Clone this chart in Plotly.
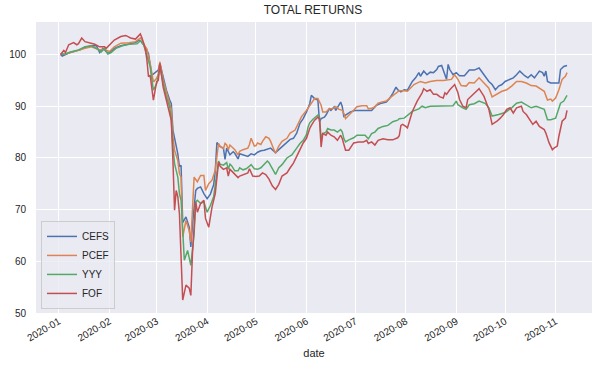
import plotly.graph_objects as go

# ---- data ----
cefs_dates = ["2020-01-02","2020-01-03","2020-01-07","2020-01-10","2020-01-14","2020-01-17","2020-01-21","2020-01-24","2020-01-26","2020-01-28","2020-01-29","2020-01-31","2020-02-01","2020-02-04","2020-02-08","2020-02-13","2020-02-17","2020-02-19","2020-02-20","2020-02-22","2020-02-24","2020-02-25",
"2020-02-27","2020-02-29","2020-03-02","2020-03-03","2020-03-05","2020-03-07","2020-03-09","2020-03-10","2020-03-11","2020-03-12","2020-03-14","2020-03-15","2020-03-16","2020-03-17","2020-03-19","2020-03-21","2020-03-22","2020-03-23","2020-03-25","2020-03-26","2020-03-28","2020-03-30","2020-04-01","2020-04-03","2020-04-05","2020-04-06","2020-04-07",
"2020-04-09","2020-04-11","2020-04-12","2020-04-13","2020-04-15","2020-04-17","2020-04-18","2020-04-20","2020-04-21","2020-04-24","2020-04-26","2020-04-28","2020-04-30","2020-05-02","2020-05-04","2020-05-06","2020-05-08","2020-05-10","2020-05-12","2020-05-13","2020-05-15","2020-05-17","2020-05-20","2020-05-22","2020-05-24","2020-05-26","2020-05-28","2020-05-30","2020-06-01","2020-06-02","2020-06-03","2020-06-04",
"2020-06-05","2020-06-06","2020-06-08","2020-06-09","2020-06-10","2020-06-12","2020-06-13","2020-06-15","2020-06-16","2020-06-18","2020-06-19","2020-06-21","2020-06-22","2020-06-23","2020-06-24","2020-06-25","2020-06-28","2020-07-01","2020-07-05","2020-07-09","2020-07-11","2020-07-14","2020-07-17","2020-07-20","2020-07-22","2020-07-24","2020-07-26","2020-07-27","2020-07-29","2020-07-31",
"2020-08-02","2020-08-05","2020-08-07","2020-08-09","2020-08-10","2020-08-12","2020-08-14","2020-08-16","2020-08-18","2020-08-20","2020-08-21","2020-08-23","2020-08-24","2020-08-26","2020-08-27","2020-08-28","2020-08-30","2020-09-01","2020-09-03","2020-09-06","2020-09-09","2020-09-12","2020-09-15","2020-09-17","2020-09-19","2020-09-21","2020-09-23","2020-09-25","2020-09-27","2020-09-29",
"2020-10-01","2020-10-04","2020-10-06","2020-10-08","2020-10-10","2020-10-13","2020-10-15","2020-10-17","2020-10-19","2020-10-22","2020-10-24","2020-10-25","2020-10-26","2020-10-27","2020-10-29","2020-11-01","2020-11-03","2020-11-04","2020-11-06","2020-11-08"]
cefs_vals = [100.0,99.7,100.3,100.6,100.9,101.4,101.7,101.7,100.4,101.2,100.9,100.3,100.3,101.2,101.7,102.1,102.3,102.8,102.7,101.9,100.6,100.2,
96.0,96.6,97.0,98.3,95.4,93.1,91.2,90.5,85.4,83.7,80.8,78.3,78.6,67.5,68.6,66.6,62.8,67.0,73.7,74.1,74.4,73.1,72.1,73.0,74.8,77.5,83.0,
82.2,81.9,79.7,81.9,80.6,81.2,80.9,79.8,80.8,80.5,80.3,80.8,80.6,81.1,81.4,81.5,81.7,81.9,81.3,81.0,81.6,82.2,83.2,83.6,83.8,84.8,86.7,87.6,88.9,89.8,90.5,92.1,
91.8,91.5,91.2,87.0,87.6,87.9,88.3,89.5,89.2,89.9,89.2,90.2,90.8,89.9,87.9,88.3,88.9,89.2,89.2,89.1,89.2,90.2,90.6,90.8,91.5,92.5,93.7,93.2,92.8,93.2,
93.1,94.8,95.5,96.5,95.8,96.8,96.1,96.6,96.5,97.1,97.7,97.9,97.1,95.2,98.1,97.1,96.1,96.5,95.9,95.9,97.0,97.0,97.4,96.5,95.5,94.8,94.2,93.2,93.9,94.2,
94.8,95.2,95.5,96.1,96.8,95.9,95.5,96.1,95.5,96.8,96.5,95.8,96.8,94.8,94.5,94.5,94.5,97.1,97.7,97.9]

pcef_dates = ["2020-01-02","2020-01-05","2020-01-08","2020-01-13","2020-01-17","2020-01-21","2020-01-26","2020-01-28","2020-01-30","2020-02-01","2020-02-04","2020-02-08","2020-02-13","2020-02-17","2020-02-20","2020-02-21","2020-02-23",
"2020-02-24","2020-02-25","2020-02-26","2020-02-28","2020-03-01","2020-03-02","2020-03-03","2020-03-05","2020-03-07","2020-03-09","2020-03-10","2020-03-11","2020-03-12","2020-03-14","2020-03-15","2020-03-16","2020-03-17","2020-03-19","2020-03-21","2020-03-22","2020-03-24","2020-03-26","2020-03-28","2020-03-30","2020-03-31","2020-04-02","2020-04-04","2020-04-06","2020-04-08",
"2020-04-09","2020-04-11","2020-04-12","2020-04-13","2020-04-14","2020-04-15","2020-04-16","2020-04-18","2020-04-20","2020-04-21","2020-04-23","2020-04-26","2020-04-27","2020-04-28","2020-04-30","2020-05-01","2020-05-02","2020-05-04","2020-05-05","2020-05-07","2020-05-09","2020-05-10","2020-05-12","2020-05-13","2020-05-15","2020-05-17","2020-05-20","2020-05-22","2020-05-25","2020-05-27","2020-05-29","2020-06-01","2020-06-03","2020-06-05",
"2020-06-06","2020-06-08","2020-06-10","2020-06-11","2020-06-13","2020-06-15","2020-06-17","2020-06-19","2020-06-21","2020-06-23","2020-06-24","2020-06-25","2020-06-27","2020-06-30","2020-07-02","2020-07-05","2020-07-08","2020-07-09","2020-07-11","2020-07-13","2020-07-15","2020-07-17","2020-07-20","2020-07-23","2020-07-26","2020-07-28",
"2020-07-31","2020-08-02","2020-08-06","2020-08-10","2020-08-13","2020-08-16","2020-08-20","2020-08-24","2020-08-29","2020-08-31","2020-09-02","2020-09-04","2020-09-07","2020-09-09","2020-09-12","2020-09-15","2020-09-18","2020-09-21","2020-09-23","2020-09-26","2020-09-29",
"2020-10-02","2020-10-05","2020-10-08","2020-10-11","2020-10-14","2020-10-17","2020-10-20","2020-10-23","2020-10-25","2020-10-27","2020-10-29","2020-10-30","2020-11-01","2020-11-03","2020-11-05","2020-11-07","2020-11-08"]
pcef_vals = [100.0,100.1,100.4,100.9,101.2,101.5,100.9,101.0,100.8,100.6,101.5,102.2,102.3,102.5,103.2,102.9,101.5,
101.1,99.6,98.3,94.7,95.4,96.3,98.6,95.1,92.5,90.5,89.5,84.1,81.5,79.5,77.0,76.3,64.7,67.9,65.9,63.7,76.3,75.4,76.6,76.6,73.7,75.0,75.7,77.6,82.8,
82.2,81.8,82.8,82.5,81.6,82.5,82.2,81.6,80.6,81.3,81.6,81.9,82.6,83.8,82.3,82.4,82.9,82.6,83.2,84.1,83.8,83.2,81.6,80.9,82.3,83.2,83.8,84.8,85.4,86.7,88.0,89.2,90.1,91.2,
91.5,91.5,90.2,88.9,88.9,89.5,89.5,89.9,89.4,89.2,88.6,87.6,88.3,89.2,89.9,90.1,90.1,89.5,89.6,89.9,90.6,90.8,91.0,91.8,92.5,93.0,
93.0,92.9,94.2,94.8,94.5,94.8,95.0,95.0,95.2,96.1,95.2,94.0,93.9,94.6,94.5,95.5,94.5,93.5,91.8,92.3,92.9,
93.2,93.9,94.8,94.8,94.5,94.0,93.9,93.2,92.9,91.2,91.4,91.0,91.6,93.2,95.2,95.8,96.5]

yyy_dates = ["2020-01-02","2020-01-05","2020-01-08","2020-01-13","2020-01-17","2020-01-21","2020-01-25","2020-01-27","2020-01-29","2020-01-31","2020-02-02","2020-02-05","2020-02-09","2020-02-13","2020-02-18","2020-02-20","2020-02-22","2020-02-24",
"2020-02-26","2020-02-28","2020-03-01","2020-03-02","2020-03-03","2020-03-05","2020-03-07","2020-03-09","2020-03-10","2020-03-11","2020-03-12","2020-03-14","2020-03-15","2020-03-16","2020-03-18","2020-03-20","2020-03-21","2020-03-22","2020-03-24","2020-03-25","2020-03-26","2020-03-28","2020-03-30","2020-04-01","2020-04-03","2020-04-05","2020-04-08",
"2020-04-09","2020-04-11","2020-04-13","2020-04-14","2020-04-15","2020-04-16","2020-04-18","2020-04-20","2020-04-21","2020-04-23","2020-04-25","2020-04-27","2020-04-28","2020-04-30","2020-05-02","2020-05-04","2020-05-06","2020-05-08","2020-05-09","2020-05-11","2020-05-13","2020-05-15","2020-05-17","2020-05-20","2020-05-23","2020-05-26","2020-05-28","2020-05-30","2020-06-01","2020-06-02","2020-06-03","2020-06-05",
"2020-06-08","2020-06-09","2020-06-10","2020-06-11","2020-06-13","2020-06-14","2020-06-16","2020-06-18","2020-06-20","2020-06-22","2020-06-23","2020-06-24","2020-06-25","2020-06-27","2020-06-30","2020-07-02","2020-07-04","2020-07-07","2020-07-09","2020-07-11","2020-07-13","2020-07-15","2020-07-18","2020-07-21","2020-07-24","2020-07-27",
"2020-07-28","2020-07-31","2020-08-05","2020-08-09","2020-08-11","2020-08-13","2020-08-16","2020-08-22","2020-08-30","2020-09-01","2020-09-02","2020-09-05","2020-09-07","2020-09-09","2020-09-12","2020-09-15","2020-09-19","2020-09-21","2020-09-23","2020-09-27",
"2020-10-01","2020-10-05","2020-10-08","2020-10-11","2020-10-14","2020-10-17","2020-10-20","2020-10-23","2020-10-25","2020-10-27","2020-10-29","2020-11-01","2020-11-03","2020-11-04","2020-11-06","2020-11-08"]
yyy_vals = [100.1,100.1,100.5,100.9,101.5,101.7,101.0,100.5,101.2,100.1,100.4,101.2,101.7,102.0,102.1,102.7,101.9,99.6,
97.7,93.1,94.4,95.7,97.6,94.4,91.8,89.9,87.3,82.0,78.9,76.3,73.1,71.8,60.2,62.1,60.5,59.2,65.3,71.5,71.8,71.2,71.5,69.5,70.8,72.5,79.4,
78.8,78.6,79.1,77.8,78.8,78.5,77.5,77.5,78.1,77.7,77.9,78.4,78.7,77.9,77.8,78.1,78.7,79.4,79.1,77.8,76.8,78.1,78.7,80.0,80.6,81.9,82.8,83.4,84.5,86.0,86.8,87.5,
88.3,87.9,83.7,84.7,85.0,85.7,85.4,85.4,85.0,85.5,85.0,83.7,83.1,83.5,83.9,84.4,84.4,84.4,83.7,84.7,85.0,85.7,86.1,86.3,87.0,87.3,
87.6,87.7,89.0,89.5,90.0,89.7,90.0,90.0,90.1,91.0,90.3,89.7,89.4,90.3,90.5,91.0,90.5,89.7,88.1,88.4,
88.8,89.7,90.6,90.8,90.3,89.7,90.0,89.7,89.4,87.4,87.4,87.7,89.4,90.6,91.0,92.1]

fof_dates = ["2020-01-02","2020-01-04","2020-01-05","2020-01-07","2020-01-10","2020-01-12","2020-01-13","2020-01-15","2020-01-17","2020-01-20","2020-01-23","2020-01-26","2020-01-29","2020-01-30","2020-02-01","2020-02-04","2020-02-08","2020-02-11","2020-02-14","2020-02-17","2020-02-20","2020-02-21","2020-02-23","2020-02-24",
"2020-02-25","2020-02-26","2020-02-28","2020-03-01","2020-03-02","2020-03-03","2020-03-05","2020-03-07","2020-03-09","2020-03-10","2020-03-11","2020-03-12","2020-03-13","2020-03-14","2020-03-15","2020-03-16","2020-03-17","2020-03-19","2020-03-21","2020-03-22","2020-03-23","2020-03-25","2020-03-26","2020-03-28","2020-03-30","2020-03-31","2020-04-02","2020-04-04","2020-04-06","2020-04-08",
"2020-04-09","2020-04-11","2020-04-13","2020-04-14","2020-04-15","2020-04-16","2020-04-18","2020-04-20","2020-04-21","2020-04-24","2020-04-26","2020-04-27","2020-04-29","2020-05-01","2020-05-03","2020-05-05","2020-05-07","2020-05-09","2020-05-11","2020-05-13","2020-05-15","2020-05-17","2020-05-20","2020-05-22","2020-05-24","2020-05-26","2020-05-28","2020-05-30","2020-06-01","2020-06-02","2020-06-03","2020-06-04",
"2020-06-06","2020-06-08","2020-06-09","2020-06-10","2020-06-11","2020-06-13","2020-06-14","2020-06-16","2020-06-18","2020-06-20","2020-06-22","2020-06-23","2020-06-24","2020-06-25","2020-06-27","2020-06-30","2020-07-03","2020-07-06","2020-07-08","2020-07-09","2020-07-11","2020-07-13","2020-07-15","2020-07-18","2020-07-21","2020-07-24","2020-07-27","2020-07-28","2020-07-29",
"2020-07-30","2020-08-01","2020-08-02","2020-08-05","2020-08-08","2020-08-11","2020-08-12","2020-08-14","2020-08-16","2020-08-18","2020-08-20","2020-08-22","2020-08-24","2020-08-25","2020-08-26","2020-08-28","2020-08-30","2020-08-31","2020-09-02","2020-09-03","2020-09-05","2020-09-07","2020-09-08","2020-09-09","2020-09-11","2020-09-13","2020-09-15","2020-09-18","2020-09-20","2020-09-21","2020-09-23","2020-09-26","2020-09-28","2020-09-30",
"2020-10-02","2020-10-04","2020-10-06","2020-10-08","2020-10-11","2020-10-12","2020-10-14","2020-10-16","2020-10-18","2020-10-20","2020-10-22","2020-10-25","2020-10-26","2020-10-28","2020-10-30","2020-10-31","2020-11-02","2020-11-03","2020-11-05","2020-11-07","2020-11-08"]
fof_vals = [100.0,100.8,100.4,101.9,102.3,101.9,102.1,103.2,102.5,102.2,102.0,101.5,101.5,101.2,101.9,102.8,103.5,103.7,103.2,103.0,104.0,103.2,101.2,99.0,
95.7,96.0,91.2,94.7,95.0,98.3,93.7,91.2,88.6,87.3,79.5,69.9,73.7,72.5,69.2,61.5,52.5,55.4,54.8,53.4,61.5,71.5,69.5,71.2,71.8,68.3,66.6,70.5,73.1,79.2,
78.4,77.8,78.1,76.5,77.8,77.5,76.8,76.2,76.5,76.8,77.1,77.9,76.5,76.4,76.5,77.1,76.8,75.9,74.6,73.9,74.9,76.5,77.1,78.1,79.0,80.3,81.6,82.9,83.8,85.0,85.7,86.3,
87.3,87.9,87.6,82.1,84.7,84.4,85.0,84.4,84.1,83.4,84.4,83.7,82.8,81.5,81.5,82.9,83.1,83.1,83.4,82.8,83.1,82.5,83.4,83.7,83.5,83.5,83.9,84.3,86.3,
86.5,86.1,85.8,89.0,91.0,92.6,93.4,92.9,93.2,92.3,92.3,91.8,91.6,92.6,92.3,93.2,93.9,94.2,92.6,91.3,90.0,89.7,91.3,91.6,92.3,92.9,93.4,91.9,90.3,89.4,86.5,87.1,87.7,88.4,
89.4,89.7,88.7,89.7,90.0,89.0,88.4,87.4,86.5,87.1,86.1,85.5,84.8,82.9,81.6,81.9,82.3,84.2,87.1,87.7,89.2]

series_names = ["CEFS", "PCEF", "YYY", "FOF"]
series_dates = [cefs_dates, pcef_dates, yyy_dates, fof_dates]
series_vals = [cefs_vals, pcef_vals, yyy_vals, fof_vals]
colors = ["#4C72B0", "#DD8452", "#55A868", "#C44E52"]

y_ticks = [50, 60, 70, 80, 90, 100]
x_ticks = ["2020-01-01","2020-02-01","2020-03-01","2020-04-01","2020-05-01","2020-06-01",
           "2020-07-01","2020-08-01","2020-09-01","2020-10-01","2020-11-01"]
x_tick_labels = ["2020-01","2020-02","2020-03","2020-04","2020-05","2020-06",
                 "2020-07","2020-08","2020-09","2020-10","2020-11"]

FONT = "Liberation Sans, Arial, sans-serif"
TXT = "#262626"

fig = go.Figure()
for name, d, v, c in zip(series_names, series_dates, series_vals, colors):
    fig.add_trace(go.Scatter(x=d, y=v, mode="lines", name=name,
                             line=dict(color=c, width=1.5)))

fig.update_layout(
    width=606, height=374,
    margin=dict(l=36, r=14, t=22, b=61, autoexpand=False),
    paper_bgcolor="white",
    plot_bgcolor="#EAEAF2",
    font=dict(family=FONT, size=10, color=TXT),
    title=dict(text="TOTAL RETURNS", x=0.5165, xanchor="center",
               y=0.985, yanchor="top", yref="container",
               font=dict(family=FONT, size=12, color=TXT)),
    showlegend=True,
    legend=dict(x=0.009, y=0.014, xanchor="left", yanchor="bottom",
                bgcolor="rgba(234,234,242,0.8)", bordercolor="#CCCCCC", borderwidth=1,
                font=dict(family=FONT, size=10, color=TXT), itemwidth=30,
                tracegroupgap=0),
)
fig.update_xaxes(
    type="date",
    range=["2019-12-17 22:00", "2020-11-23 08:00"],
    tickvals=x_ticks, ticktext=x_tick_labels, tickangle=-30,
    showgrid=True, gridcolor="white", gridwidth=1,
    zeroline=False, showline=False, ticks="", automargin=False,
    tickfont=dict(family=FONT, size=10, color=TXT),
    title=dict(text="date", font=dict(family=FONT, size=11, color=TXT), standoff=6),
)
fig.update_yaxes(
    range=[50.0, 106.3],
    tickvals=y_ticks,
    showgrid=True, gridcolor="white", gridwidth=1,
    zeroline=False, showline=False, ticks="", automargin=False,
    ticklabelstandoff=9,
    tickfont=dict(family=FONT, size=10, color=TXT),
)

fig.write_html("out.html",
               config={"displayModeBar": False},
               post_script="document.body.style.margin='0';document.body.style.overflow='hidden';")
